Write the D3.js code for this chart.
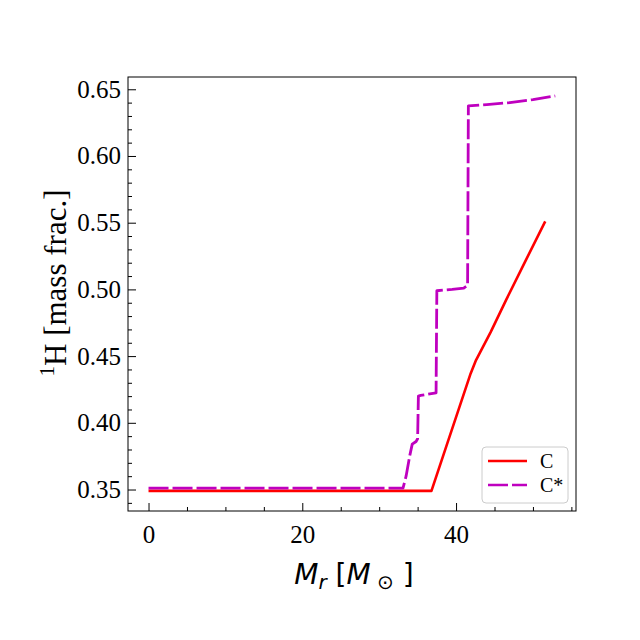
<!DOCTYPE html>
<html>
<head>
<meta charset="utf-8">
<script src="https://cdn.jsdelivr.net/npm/d3@7"></script>
<style>
  body { margin: 0; background: #fff; }
  svg { display: block; }
</style>
</head>
<body>
<svg id="chart" width="640" height="640"></svg>
<script>
// series C (solid red)
const cMass = [0, 10, 20, 30, 36.8, 39.0, 41.9, 42.6, 44.5, 46.5, 49.0, 51.6];
const cH    = [0.349, 0.349, 0.349, 0.349, 0.349, 0.387, 0.437, 0.447, 0.468, 0.492, 0.521, 0.551];

// series C* (dashed magenta)
const csMass = [0, 10, 20, 30, 33.1, 33.5, 34.0, 34.3, 34.8, 35.0, 35.1, 35.4, 37.4, 37.5, 39.5, 41.0, 41.5, 41.6, 44.0, 47.0, 50.0, 52.9];
const csH    = [0.351, 0.351, 0.351, 0.351, 0.351, 0.360, 0.376, 0.384, 0.386, 0.388, 0.420, 0.4205, 0.4225, 0.499, 0.500, 0.501, 0.503, 0.6375, 0.6385, 0.640, 0.6422, 0.645];

const xMajor = [0, 20, 40];
const yMajor = [0.35, 0.40, 0.45, 0.50, 0.55, 0.60, 0.65];
const legendLabels = ['C', 'C*'];

const svg = d3.select('#chart');

const LEFT = 128, RIGHT = 576, TOP = 77, BOTTOM = 511;
const SERIF = '"Liberation Serif", "Times New Roman", serif';

const x = d3.scaleLinear().domain([-2.67, 55.6]).range([LEFT, RIGHT]);
const y = d3.scaleLinear().domain([0.3339, 0.6592]).range([BOTTOM, TOP]);

const xMinor = d3.range(0, 56, 5).filter(v => xMajor.indexOf(v) < 0);
const yMinor = d3.range(34, 66, 1).map(v => v / 100).filter(v => yMajor.every(m => Math.abs(m - v) > 1e-6));

// ticks, inward
const xAxis = svg.append('g').attr('transform', `translate(0,${BOTTOM})`);
xAxis.call(d3.axisBottom(x).tickValues(xMajor).tickSizeInner(-8).tickSizeOuter(0).tickPadding(14).tickFormat(d3.format('d')));
xAxis.append('g').call(d3.axisBottom(x).tickValues(xMinor).tickSizeInner(-4).tickSizeOuter(0).tickFormat(''));

const yAxis = svg.append('g').attr('transform', `translate(${LEFT},0)`);
yAxis.call(d3.axisLeft(y).tickValues(yMajor).tickSizeInner(-8).tickSizeOuter(0).tickPadding(7).tickFormat(d3.format('.2f')));
yAxis.append('g').call(d3.axisLeft(y).tickValues(yMinor).tickSizeInner(-4).tickSizeOuter(0).tickFormat(''));

svg.selectAll('.domain').remove();
svg.selectAll('.tick line').attr('stroke', '#000').attr('stroke-width', 1);
svg.selectAll('.tick text')
    .attr('font-family', SERIF)
    .attr('font-size', 25)
    .attr('fill', '#000');

// lines
const line = d3.line().x(d => x(d[0])).y(d => y(d[1]));

svg.append('path')
    .datum(d3.zip(cMass, cH))
    .attr('d', line)
    .attr('fill', 'none')
    .attr('stroke', '#ff0000')
    .attr('stroke-width', 2.6)
    .attr('stroke-linejoin', 'round');

svg.append('path')
    .datum(d3.zip(csMass, csH))
    .attr('d', line)
    .attr('fill', 'none')
    .attr('stroke', '#bf00bf')
    .attr('stroke-width', 2.8)
    .attr('stroke-dasharray', '20,4')
    .attr('stroke-linejoin', 'round');

// frame
svg.append('rect')
    .attr('x', LEFT).attr('y', TOP)
    .attr('width', RIGHT - LEFT).attr('height', BOTTOM - TOP)
    .attr('fill', 'none').attr('stroke', '#000').attr('stroke-width', 1);

// legend
const lg = svg.append('g').attr('transform', 'translate(482,447)');
lg.append('rect')
    .attr('width', 86).attr('height', 56).attr('rx', 4)
    .attr('fill', '#fff').attr('fill-opacity', 0.8)
    .attr('stroke', '#cccccc').attr('stroke-width', 1);
const legendStyles = [
    { color: '#ff0000', dash: null },
    { color: '#bf00bf', dash: '20,4' }
];
legendLabels.forEach((lab, i) => {
    const yy = 14 + i * 24;
    lg.append('line')
        .attr('x1', 6).attr('x2', 45).attr('y1', yy).attr('y2', yy)
        .attr('stroke', legendStyles[i].color).attr('stroke-width', 2.6)
        .attr('stroke-dasharray', legendStyles[i].dash);
    lg.append('text')
        .text(lab)
        .attr('x', 58).attr('y', yy + 7)
        .attr('font-family', SERIF).attr('font-size', 20).attr('fill', '#000');
});

// y label
const yl = svg.append('text')
    .attr('transform', 'translate(66,283) rotate(-90)')
    .attr('text-anchor', 'middle')
    .attr('font-family', SERIF)
    .attr('font-size', 31)
    .attr('fill', '#000');
yl.append('tspan').text('1').attr('font-size', 21).attr('dy', -12);
yl.append('tspan').text('H [mass frac.]').attr('dy', 12);

// x label (mathtext style)
const xl = svg.append('text')
    .attr('x', 354).attr('y', 584)
    .attr('text-anchor', 'middle')
    .attr('font-family', '"DejaVu Sans", sans-serif')
    .attr('font-size', 28)
    .attr('fill', '#000');
xl.append('tspan').text('M').attr('font-style', 'italic');
xl.append('tspan').text('r').attr('font-style', 'italic').attr('font-size', 20).attr('dy', 5);
xl.append('tspan').text('\u00a0[').attr('dy', -5);
xl.append('tspan').text('M').attr('font-style', 'italic');
xl.append('tspan').text('\u00a0\u2299').attr('font-size', 20).attr('dy', 5);
xl.append('tspan').text('\u00a0]').attr('dy', -5);
</script>
</body>
</html>
